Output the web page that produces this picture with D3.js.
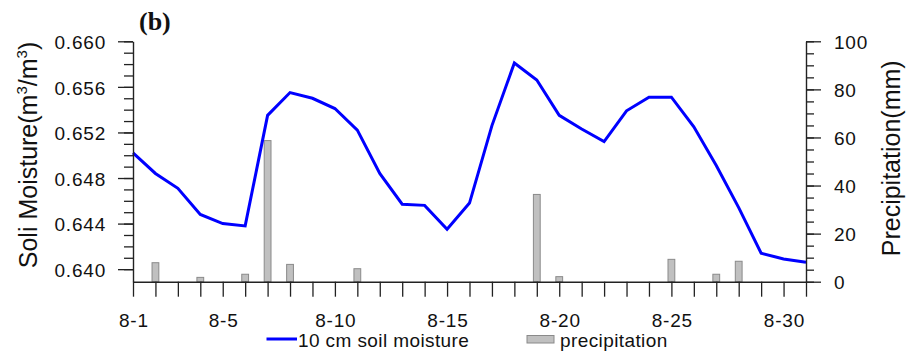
<!DOCTYPE html>
<html>
<head>
<meta charset="utf-8">
<script src="https://cdn.jsdelivr.net/npm/d3@7"></script>
<style>
  html, body { margin: 0; padding: 0; background: #fff; }
  svg { display: block; }
</style>
</head>
<body>
<svg id="chart" width="907" height="352" font-family="'Liberation Sans', Arial, Helvetica, sans-serif"></svg>
<script>
// ---- data ----
const days = [1,2,3,4,5,6,7,8,9,10,11,12,13,14,15,16,17,18,19,20,21,22,23,24,25,26,27,28,29,30,31];
const moisture = [0.6502, 0.6484, 0.6471, 0.6448, 0.6440, 0.6438, 0.6535, 0.6555, 0.6550, 0.6541,
                  0.6522, 0.6484, 0.6457, 0.6456, 0.6435, 0.6458, 0.6526, 0.6581, 0.6566, 0.6535,
                  0.6523, 0.6512, 0.6539, 0.6551, 0.6551, 0.6525, 0.6491, 0.6454, 0.6414, 0.6409, 0.6406];
const precip = [0, 7.9, 0, 1.8, 0, 3.1, 58.7, 7.2, 0, 0,
                5.4, 0, 0, 0, 0, 0, 0, 0, 36.3, 2.1,
                0, 0, 0, 0, 9.3, 0, 3.1, 8.5, 0, 0, 0];
const xLabelDays = [1, 5, 10, 15, 20, 25, 30];
const leftTicks = [0.640, 0.644, 0.648, 0.652, 0.656, 0.660];
const rightTicks = [0, 20, 40, 60, 80, 100];
const seriesNames = ["10 cm soil moisture", "precipitation"];

// ---- layout ----
const L = 133, R = 806, T = 41.3, B = 281.7;
const svg = d3.select("#chart");
const x = d3.scaleLinear().domain([1, 31]).range([L, R]);
const yL = d3.scaleLinear().domain([0.6389, 0.660]).range([B, T]);
const yR = d3.scaleLinear().domain([0, 100]).range([B, T]);
const fs = 19;
const ls = "0.8px";
const axisColor = "#222";

// bars
const barW = 6.8;
svg.append("g").selectAll("rect")
  .data(days.map((d, i) => ({ d, v: precip[i] })).filter(o => o.v > 0))
  .join("rect")
  .attr("x", o => x(o.d) - barW / 2)
  .attr("y", o => yR(o.v))
  .attr("width", barW)
  .attr("height", o => B - yR(o.v))
  .attr("fill", "#c0c0c0")
  .attr("stroke", "#8a8a8a")
  .attr("stroke-width", 1);

// line
const line = d3.line().x((d, i) => x(days[i])).y(d => yL(d));
svg.append("path")
  .datum(moisture)
  .attr("d", line)
  .attr("fill", "none")
  .attr("stroke", "#0000ff")
  .attr("stroke-width", 3)
  .attr("stroke-linejoin", "miter");

function styleAxis(g) {
  g.attr("font-family", null).attr("font-size", null);
  g.select(".domain").attr("stroke", axisColor).attr("stroke-width", 1.4);
  g.selectAll(".tick line").attr("stroke", axisColor).attr("stroke-width", 1.3);
  g.selectAll("text").attr("font-size", fs).attr("fill", "#111")
    .attr("letter-spacing", ls);
}

// x axis
const gx = svg.append("g").attr("transform", `translate(0,${B})`)
  .call(d3.axisBottom(x).tickValues(days).tickSize(15).tickSizeOuter(0)
    .tickFormat(d => xLabelDays.includes(d) ? "8-" + d : ""));
styleAxis(gx);
gx.selectAll("text").attr("y", 45.2).attr("dy", null).attr("dx", "0.4");

// left axis minor
const leftMinor = d3.range(0, 21).map(k => 0.640 + k * 0.001);
const glm = svg.append("g").attr("transform", `translate(${L},0)`)
  .call(d3.axisLeft(yL).tickValues(leftMinor).tickSize(9).tickSizeOuter(0).tickFormat(""));
styleAxis(glm);
glm.select(".domain").remove();
// left axis major
const gl = svg.append("g").attr("transform", `translate(${L},0)`)
  .call(d3.axisLeft(yL).tickValues(leftTicks).tickSize(15).tickSizeOuter(0).tickPadding(12)
    .tickFormat(d3.format(".3f")));
styleAxis(gl);
gl.selectAll("text").attr("dy", "0.38em");

// right axis minor
const rightMinor = d3.range(0, 21).map(k => k * 5);
const grm = svg.append("g").attr("transform", `translate(${R},0)`)
  .call(d3.axisRight(yR).tickValues(rightMinor).tickSize(8).tickSizeOuter(0).tickFormat(""));
styleAxis(grm);
grm.select(".domain").remove();
// right axis major
const gr = svg.append("g").attr("transform", `translate(${R},0)`)
  .call(d3.axisRight(yR).tickValues(rightTicks).tickSize(15).tickSizeOuter(0).tickPadding(13));
styleAxis(gr);
gr.selectAll("text").attr("dy", "0.36em");

// title
svg.append("text")
  .attr("x", 139).attr("y", 30)
  .attr("font-family", "'Liberation Serif', 'Times New Roman', serif")
  .attr("font-weight", "bold")
  .attr("font-size", 26)
  .attr("fill", "#111")
  .text("(b)");

// left axis title
const lt = svg.append("text")
  .attr("transform", `translate(37,155) rotate(-90)`)
  .attr("text-anchor", "middle")
  .attr("font-size", 25)
  .attr("fill", "#111");
lt.append("tspan").text("Soli Moisture(m");
lt.append("tspan").attr("font-size", 15).attr("dy", -10).text("3");
lt.append("tspan").attr("dy", 10).text("/m");
lt.append("tspan").attr("font-size", 15).attr("dy", -10).text("3");
lt.append("tspan").attr("dy", 10).text(")");

// right axis title
svg.append("text")
  .attr("transform", `translate(900,158.3) rotate(-90)`)
  .attr("text-anchor", "middle")
  .attr("font-size", 25)
  .attr("fill", "#111")
  .text("Precipitation(mm)");

// legend
const lg = svg.append("g");
lg.append("line").attr("x1", 266.5).attr("x2", 297).attr("y1", 339).attr("y2", 339)
  .attr("stroke", "#0000ff").attr("stroke-width", 3);
lg.append("text").attr("x", 298).attr("y", 346.5).attr("font-size", fs).attr("letter-spacing", "0.4px")
  .attr("fill", "#111").text(seriesNames[0]);
lg.append("rect").attr("x", 527).attr("y", 335.5).attr("width", 27).attr("height", 7.5)
  .attr("fill", "#c0c0c0").attr("stroke", "#8a8a8a").attr("stroke-width", 1);
lg.append("text").attr("x", 560).attr("y", 346.5).attr("font-size", fs).attr("letter-spacing", "0.4px")
  .attr("fill", "#111").text(seriesNames[1]);
</script>
</body>
</html>
